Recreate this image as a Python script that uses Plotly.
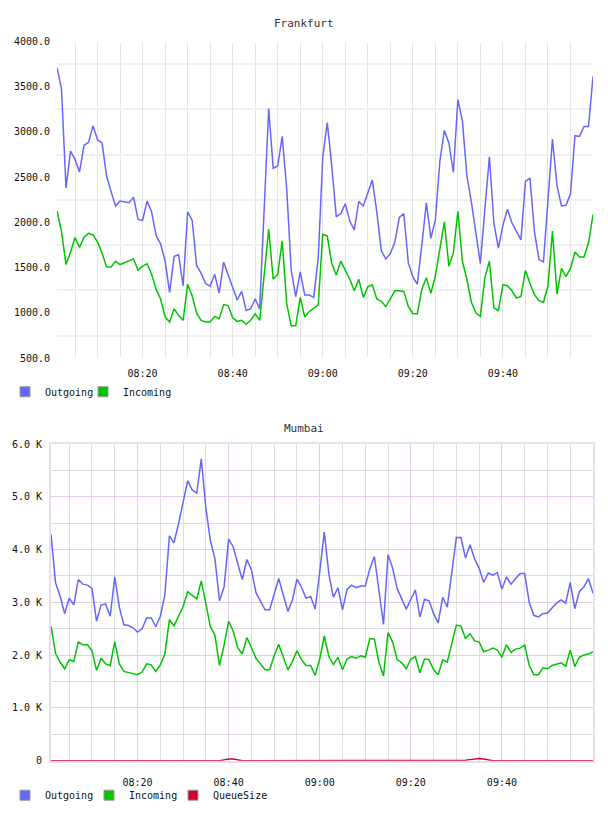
import pandas as pd
import plotly.graph_objects as go

# ---------------- data ----------------
START = "2024-01-01 08:01"
N_POINTS = 120
times = pd.date_range(START, periods=N_POINTS, freq="min")

fra_outgoing = [
    3710, 3478, 2381, 2788, 2697, 2559, 2853, 2886, 3068, 2915,
    2879, 2516, 2341, 2182, 2236, 2225, 2218, 2280, 2033, 2022,
    2236, 2116, 1855, 1764, 1572, 1227, 1626, 1644, 1300, 2116,
    2025, 1525, 1437, 1325, 1296, 1427, 1220, 1561, 1427, 1300,
    1143, 1238, 1027, 1045, 1154, 1045, 2150, 3260, 2599, 2624,
    2951, 2370, 1470, 1179, 1455, 1197, 1197, 1172, 1608, 2720,
    3105, 2625, 2062, 2098, 2207, 2015, 1917, 2232, 2182, 2327,
    2468, 2116, 1688, 1597, 1655, 1782, 2055, 2098, 1553, 1397,
    1317, 1753, 2218, 1826, 2025, 2679, 3017, 2879, 2552, 3358,
    3126, 2516, 2225, 1880, 1546, 2152, 2726, 1989, 1717, 1971,
    2145, 1996, 1898, 1808, 2454, 2490, 1898, 1590, 1565, 2225,
    2922, 2407, 2182, 2189, 2316, 2959, 2951, 3060, 3060, 3612,
]
fra_incoming = [
    2127, 1899, 1535, 1670, 1833, 1724, 1837, 1880, 1862, 1782,
    1663, 1510, 1507, 1572, 1535, 1554, 1572, 1597, 1470, 1517,
    1543, 1427, 1263, 1154, 955, 900, 1045, 973, 918, 1318,
    1191, 998, 918, 900, 900, 962, 936, 1092, 1081, 947,
    907, 918, 875, 918, 991, 918, 1420, 1928, 1372, 1427,
    1797, 1100, 857, 857, 1172, 955, 1016, 1056, 1089, 1870,
    1850, 1546, 1419, 1572, 1470, 1372, 1245, 1372, 1172, 1288,
    1310, 1154, 1129, 1071, 1154, 1245, 1245, 1238, 1071, 991,
    991, 1263, 1390, 1216, 1408, 1717, 2007, 1517, 1663, 2124,
    1572, 1372, 1118, 998, 962, 1390, 1572, 1056, 1027, 1310,
    1300, 1245, 1165, 1183, 1470, 1328, 1201, 1136, 1118, 1300,
    1906, 1209, 1492, 1401, 1492, 1674, 1619, 1619, 1772, 2087,
]

mum_outgoing = [
    4290, 3370, 3121, 2785, 3078, 2953, 3432, 3345, 3326, 3264,
    2642, 2953, 2966, 2736, 3482, 2910, 2574, 2561, 2518, 2437,
    2499, 2704, 2704, 2537, 2736, 3140, 4259, 4128, 4489, 4912,
    5304, 5129, 5067, 5720, 4787, 4166, 3824, 3028, 3295, 4197,
    4054, 3730, 3432, 3811, 3618, 3183, 3015, 2860, 2860, 3171,
    3451, 3140, 2829, 3046, 3438, 3283, 3078, 3109, 2872, 3580,
    4330, 3544, 3096, 3277, 2860, 3245, 3326, 3277, 3308, 3308,
    3637, 3867, 3233, 2580, 3904, 3649, 3264, 3065, 2872, 3059,
    3233, 2723, 3059, 3028, 2785, 2611, 3096, 2910, 3575, 4228,
    4228, 3842, 4091, 3824, 3649, 3376, 3556, 3513, 3562, 3252,
    3482, 3345, 3451, 3544, 3544, 2997, 2754, 2723, 2785, 2798,
    2891, 2984, 3046, 2984, 3376, 2879, 3202, 3295, 3451, 3171,
]
mum_incoming = [
    2549, 2033, 1865, 1741, 1915, 1878, 2251, 2195, 2195, 2083,
    1710, 1940, 1834, 1803, 2257, 1834, 1691, 1666, 1641, 1629,
    1679, 1834, 1815, 1691, 1815, 2020, 2673, 2549, 2736, 2922,
    3202, 3127, 3065, 3407, 2984, 2537, 2375, 1803, 2189, 2642,
    2456, 2139, 2020, 2331, 2145, 1940, 1834, 1722, 1722, 1989,
    2207, 1977, 1722, 1878, 2083, 1909, 1803, 1803, 1616, 1927,
    2362, 1977, 1822, 1959, 1722, 1927, 1971, 1940, 1989, 1959,
    2313, 2301, 1865, 1604, 2425, 2251, 1915, 1853, 1741, 1927,
    1971, 1666, 1927, 1915, 1722, 1629, 1909, 1865, 2207, 2568,
    2549, 2319, 2406, 2269, 2251, 2064, 2095, 2132, 2095, 1959,
    2195, 2052, 2114, 2132, 2189, 1803, 1629, 1629, 1759, 1741,
    1803, 1834, 1853, 1791, 2095, 1784, 1959, 2002, 2020, 2064,
]
mum_queue = [
    0, 0, 0, 0, 0, 0, 0, 0, 0, 0,
    0, 0, 0, 0, 0, 0, 0, 0, 0, 0,
    0, 0, 0, 0, 0, 0, 0, 0, 0, 0,
    0, 0, 0, 0, 0, 0, 0, 0, 15, 30,
    30, 10, 0, 0, 0, 0, 0, 0, 0, 0,
    0, 0, 0, 0, 0, 0, 0, 0, 0, 0,
    0, 0, 0, 0, 0, 0, 0, 0, 0, 0,
    0, 0, 0, 0, 0, 0, 0, 0, 0, 0,
    0, 0, 0, 0, 0, 0, 0, 0, 0, 0,
    0, 10, 20, 35, 40, 30, 15, 0, 0, 0,
    0, 0, 0, 0, 0, 0, 0, 0, 0, 0,
    0, 0, 0, 0, 0, 0, 0, 0, 0, 0,
]

fra_ticks = [500, 1000, 1500, 2000, 2500, 3000, 3500, 4000]
fra_ticktext = ["500.0", "1000.0", "1500.0", "2000.0", "2500.0", "3000.0", "3500.0", "4000.0"]
mum_ticks = [0, 1000, 2000, 3000, 4000, 5000, 6000]
mum_ticktext = ["0", "1.0 K", "2.0 K", "3.0 K", "4.0 K", "5.0 K", "6.0 K"]
x_tick_labels = ["08:20", "08:40", "09:00", "09:20", "09:40"]
x_tickvals = [pd.Timestamp("2024-01-01 " + t) for t in x_tick_labels]

# ---------------- styling ----------------
W, H = 608, 816
BLUE = "#6666ff"
GREEN = "#00c400"
RED = "#cc0033"
MONO = "DejaVu Sans Mono"
PINK = "#e2cce6"
PINK_BORDER = "#ecdcef"
GREY = "#dedede"


def px_x(p):
    return p / W


def px_y(p):
    return 1 - p / H


fig = go.Figure()

# Frankfurt lines
fig.add_trace(go.Scatter(x=times, y=fra_outgoing, mode="lines", line=dict(color=BLUE, width=1.5),
                         name="Outgoing", showlegend=False, xaxis="x", yaxis="y"))
fig.add_trace(go.Scatter(x=times, y=fra_incoming, mode="lines", line=dict(color=GREEN, width=1.5),
                         name="Incoming", showlegend=False, xaxis="x", yaxis="y"))
# Mumbai lines
fig.add_trace(go.Scatter(x=times, y=mum_queue, mode="lines", line=dict(color=RED, width=1.5),
                         name="QueueSize", showlegend=False, xaxis="x2", yaxis="y2"))
fig.add_trace(go.Scatter(x=times, y=mum_outgoing, mode="lines", line=dict(color=BLUE, width=1.5),
                         name="Outgoing", showlegend=False, xaxis="x2", yaxis="y2"))
fig.add_trace(go.Scatter(x=times, y=mum_incoming, mode="lines", line=dict(color=GREEN, width=1.5),
                         name="Incoming", showlegend=False, xaxis="x2", yaxis="y2"))

# legend entries with square swatches, each in its own positioned legend
legend_items = [
    ("Outgoing", BLUE, "legend", "x", "y"),
    ("Incoming", GREEN, "legend3", "x", "y"),
    ("Outgoing", BLUE, "legend2", "x2", "y2"),
    ("Incoming", GREEN, "legend4", "x2", "y2"),
    ("QueueSize", RED, "legend5", "x2", "y2"),
]
for name, color, leg, xa, ya in legend_items:
    fig.add_trace(go.Scatter(x=[None], y=[None], mode="markers", name=name, legend=leg,
                             marker=dict(symbol="square", size=10, color=color,
                                         line=dict(color="#999999", width=1)),
                             xaxis=xa, yaxis=ya, showlegend=True, hoverinfo="skip"))

x_range = [pd.Timestamp("2024-01-01 08:01"), pd.Timestamp("2024-01-01 10:00")]
tickfont = dict(family=MONO, size=10, color="#111111")


def leg(xpx, ypx):
    return dict(orientation="h", x=px_x(xpx), y=px_y(ypx), xanchor="left", yanchor="middle",
                font=dict(family=MONO, size=10, color="#111111"), bgcolor="rgba(0,0,0,0)",
                itemwidth=30)


fig.update_layout(
    width=W, height=H,
    margin=dict(l=0, r=0, t=0, b=0),
    paper_bgcolor="white", plot_bgcolor="white",
    font=dict(family=MONO, size=10, color="#111111"),
    xaxis=dict(
        domain=[px_x(57), px_x(593)], anchor="y", type="date", range=x_range,
        tickmode="array", tickvals=x_tickvals, ticktext=x_tick_labels,
        showgrid=True, gridcolor="#e4e4e4", gridwidth=1,
        minor=dict(dtick=300000, tick0="2024-01-01 08:00", showgrid=True, gridcolor="#e4e4e4", gridwidth=1),
        showline=False, zeroline=False, ticks="", tickfont=tickfont, ticklabelstandoff=8,
    ),
    yaxis=dict(
        domain=[px_y(358), px_y(37)], anchor="x", range=[500, 4000],
        tickmode="array", tickvals=fra_ticks, ticktext=fra_ticktext,
        showgrid=False, zeroline=False, showline=False, ticks="", tickfont=tickfont,
        ticklabelstandoff=6,
        minor=dict(tickmode="linear", tick0=750, dtick=500, showgrid=True, gridcolor="#f0f0f0", gridwidth=2),
    ),
    xaxis2=dict(
        domain=[px_x(51), px_x(593)], anchor="y2", type="date", range=x_range,
        tickmode="array", tickvals=x_tickvals, ticktext=x_tick_labels,
        showgrid=True, gridcolor=PINK, gridwidth=1,
        minor=dict(dtick=300000, tick0="2024-01-01 08:00", showgrid=True, gridcolor=GREY, gridwidth=1),
        showline=True, linecolor=PINK_BORDER, linewidth=2, mirror=True,
        zeroline=False, ticks="", tickfont=tickfont, ticklabelstandoff=11,
    ),
    yaxis2=dict(
        domain=[px_y(766), px_y(445)], anchor="x2", range=[0, 6000],
        tickmode="array", tickvals=mum_ticks, ticktext=mum_ticktext,
        showgrid=True, gridcolor=PINK, gridwidth=1,
        minor=dict(tickmode="linear", tick0=0, dtick=500, showgrid=True, gridcolor=GREY, gridwidth=1),
        showline=True, linecolor=PINK_BORDER, linewidth=2, mirror=True,
        zeroline=False, ticks="", tickfont=tickfont, ticklabelstandoff=5,
    ),
    legend=leg(5, 392),
    legend3=leg(83, 392),
    legend2=leg(5, 801),
    legend4=leg(89, 801),
    legend5=leg(173, 801),
    annotations=[
        dict(text="Frankfurt", x=0.5, y=px_y(19), xref="paper", yref="paper", showarrow=False,
             xanchor="center", yanchor="middle", font=dict(family=MONO, size=11, color="#333333")),
        dict(text="Mumbai", x=0.5, y=px_y(429), xref="paper", yref="paper", showarrow=False,
             xanchor="center", yanchor="middle", font=dict(family=MONO, size=11, color="#333333")),
    ],
    hovermode=False,
)

fig.write_html("out.html")
